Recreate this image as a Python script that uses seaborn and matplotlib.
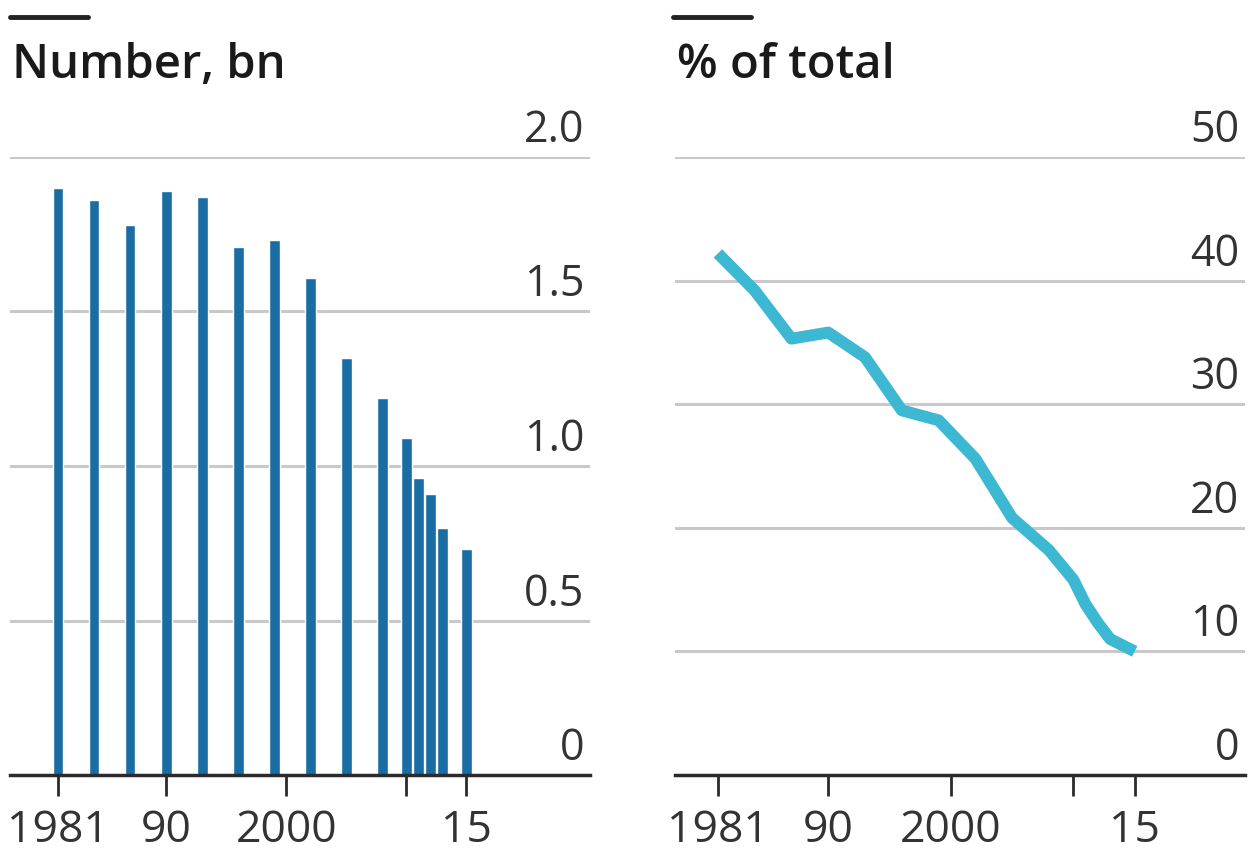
import matplotlib
matplotlib.use("Agg")
import matplotlib.pyplot as plt
import matplotlib.transforms as mtransforms
from matplotlib.lines import Line2D
import pandas as pd
import seaborn as sns

# data
years = [1981, 1984, 1987, 1990, 1993, 1996, 1999, 2002, 2005, 2008,
         2010, 2011, 2012, 2013, 2015]
number_bn = [1.90, 1.86, 1.78, 1.89, 1.87, 1.71, 1.73, 1.61, 1.35, 1.22,
             1.09, 0.96, 0.91, 0.80, 0.73]
pct_total = [42.2, 39.2, 35.3, 35.8, 33.8, 29.5, 28.7, 25.6, 20.8, 18.2,
             15.8, 13.8, 12.3, 11.0, 10.0]

x_ticks = [1981, 1990, 2000, 2010, 2015]
x_ticklabels = ["1981", "90", "2000", "", "15"]
left_yticks = [0, 0.5, 1.0, 1.5, 2.0]
left_yticklabels = ["0", "0.5", "1.0", "1.5", "2.0"]
right_yticks = [0, 10, 20, 30, 40, 50]
right_yticklabels = ["0", "10", "20", "30", "40", "50"]

df = pd.DataFrame({"year": years, "number": number_bn, "pct": pct_total})

sns.set_theme(style="white")
plt.rcParams["font.family"] = ["Open Sans", "DejaVu Sans"]

BAR = "#1a6da3"
LINE = "#3db8d2"
GRID = "#c9c9c9"
AXIS = "#2b2b2b"
TXT = "#333333"

W, H = 1249, 863
fig = plt.figure(figsize=(W / 100, H / 100), dpi=100)

def px_rect(x0, x1, ytop, ybot):
    return [x0 / W, 1 - ybot / H, (x1 - x0) / W, (ybot - ytop) / H]

ax1 = fig.add_axes(px_rect(10, 590, 157, 775))
ax2 = fig.add_axes(px_rect(675, 1245, 157, 775))

sns.barplot(data=df, x="year", y="number", native_scale=True, width=0.9,
            color=BAR, saturation=1, ax=ax1)
sns.lineplot(data=df, x="year", y="pct", color=LINE, linewidth=8.5,
             solid_capstyle="butt", solid_joinstyle="round", ax=ax2)

def style(ax, yticks, ylabels, xlim, ylim, title):
    ax.set_xlim(*xlim)
    ax.set_ylim(*ylim)
    for s in ["top", "left", "right"]:
        ax.spines[s].set_visible(False)
    ax.spines["bottom"].set_color(AXIS)
    ax.spines["bottom"].set_linewidth(2.5)
    ax.spines["bottom"].set_zorder(5)
    for y in yticks[1:]:
        ax.axhline(y, color=GRID, linewidth=2.2, zorder=0)
    ax.set_xticks(x_ticks)
    ax.set_xticklabels(x_ticklabels)
    ax.tick_params(axis="x", bottom=True, direction="out", length=15, width=2,
                   color=AXIS, pad=9, labelsize=32, labelcolor=TXT)
    ax.yaxis.tick_right()
    ax.set_yticks(yticks)
    ax.set_yticklabels(ylabels)
    ax.tick_params(axis="y", right=False, length=0, pad=-4, labelsize=31,
                   labelcolor=TXT)
    offset = mtransforms.ScaledTranslation(0, 4 / 100, fig.dpi_scale_trans)
    for lab in ax.get_yticklabels():
        lab.set_horizontalalignment("right")
        lab.set_verticalalignment("bottom")
        lab.set_transform(lab.get_transform() + offset)
    ax.set_xlabel("")
    ax.set_ylabel("")
    ax.grid(False)
    ax.text(0.003, 1.11, title, transform=ax.transAxes, fontsize=34,
            fontweight="semibold", color="#1a1a1a", ha="left", va="bottom")

style(ax1, left_yticks, left_yticklabels, (1977, 2025.3), (0, 2.0), "Number, bn")
style(ax2, right_yticks, right_yticklabels, (1977.5, 2024), (0, 50), "% of total")

# short black bars above the titles
for x0 in (10, 673):
    fig.add_artist(Line2D([x0 / W, (x0 + 78) / W], [1 - 17 / H, 1 - 17 / H],
                          color="#222222", linewidth=3.5,
                          transform=fig.transFigure))

fig.savefig("out.png", dpi=100, facecolor="white")
